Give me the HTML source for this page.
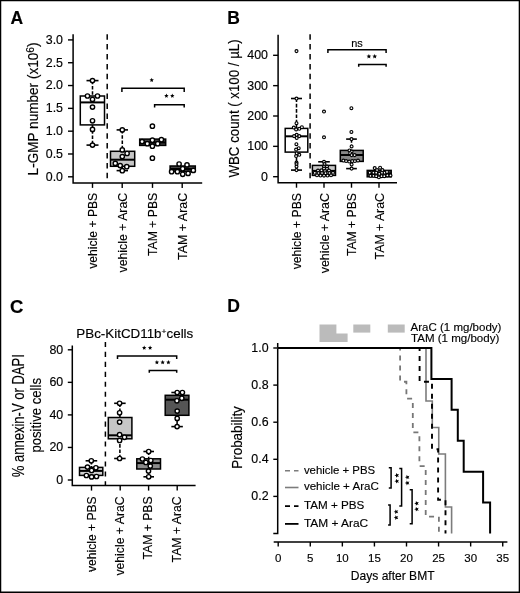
<!DOCTYPE html>
<html><head><meta charset="utf-8"><style>
html,body{margin:0;padding:0;background:#fff;}
svg{display:block;will-change:transform;}
text{font-family:"Liberation Sans", sans-serif;fill:#000;stroke:#000;stroke-width:0.15px;}
</style></head><body>
<svg width="520" height="593" viewBox="0 0 520 593">
<rect x="0" y="0" width="520" height="593" fill="#fff"/>
<text x="10.60" y="23.70" font-size="17.5" text-anchor="start" font-weight="bold">A</text>
<line x1="107.20" y1="34.20" x2="107.20" y2="182.50" stroke="#000" stroke-width="1.5" stroke-dasharray="5.5,4.4" stroke-linecap="butt"/>
<path d="M73.1,34.2 V182.9 H202.2" stroke="#000" stroke-width="1.5" fill="none" stroke-linejoin="miter"/>
<line x1="68.00" y1="176.80" x2="73.10" y2="176.80" stroke="#000" stroke-width="1.4" stroke-linecap="butt"/>
<text x="63.00" y="180.70" font-size="12.4" text-anchor="end" font-weight="normal">0.0</text>
<line x1="68.00" y1="153.99" x2="73.10" y2="153.99" stroke="#000" stroke-width="1.4" stroke-linecap="butt"/>
<text x="63.00" y="157.89" font-size="12.4" text-anchor="end" font-weight="normal">0.5</text>
<line x1="68.00" y1="131.17" x2="73.10" y2="131.17" stroke="#000" stroke-width="1.4" stroke-linecap="butt"/>
<text x="63.00" y="135.07" font-size="12.4" text-anchor="end" font-weight="normal">1.0</text>
<line x1="68.00" y1="108.36" x2="73.10" y2="108.36" stroke="#000" stroke-width="1.4" stroke-linecap="butt"/>
<text x="63.00" y="112.26" font-size="12.4" text-anchor="end" font-weight="normal">1.5</text>
<line x1="68.00" y1="85.54" x2="73.10" y2="85.54" stroke="#000" stroke-width="1.4" stroke-linecap="butt"/>
<text x="63.00" y="89.44" font-size="12.4" text-anchor="end" font-weight="normal">2.0</text>
<line x1="68.00" y1="62.73" x2="73.10" y2="62.73" stroke="#000" stroke-width="1.4" stroke-linecap="butt"/>
<text x="63.00" y="66.63" font-size="12.4" text-anchor="end" font-weight="normal">2.5</text>
<line x1="68.00" y1="39.91" x2="73.10" y2="39.91" stroke="#000" stroke-width="1.4" stroke-linecap="butt"/>
<text x="63.00" y="43.81" font-size="12.4" text-anchor="end" font-weight="normal">3.0</text>
<line x1="92.50" y1="182.90" x2="92.50" y2="187.90" stroke="#000" stroke-width="1.4" stroke-linecap="butt"/>
<text transform="translate(96.60 268.75) rotate(-90)" font-size="12.7" textLength="75.97" lengthAdjust="spacingAndGlyphs">vehicle + PBS</text>
<line x1="122.20" y1="182.90" x2="122.20" y2="187.90" stroke="#000" stroke-width="1.4" stroke-linecap="butt"/>
<text transform="translate(127.00 272.50) rotate(-90)" font-size="12.7" textLength="79.69" lengthAdjust="spacingAndGlyphs">vehicle + AraC</text>
<line x1="152.50" y1="182.90" x2="152.50" y2="187.90" stroke="#000" stroke-width="1.4" stroke-linecap="butt"/>
<text transform="translate(156.80 256.00) rotate(-90)" font-size="12.7" textLength="63.20" lengthAdjust="spacingAndGlyphs">TAM + PBS</text>
<line x1="182.20" y1="182.90" x2="182.20" y2="187.90" stroke="#000" stroke-width="1.4" stroke-linecap="butt"/>
<text transform="translate(186.60 260.00) rotate(-90)" font-size="12.7" textLength="67.22" lengthAdjust="spacingAndGlyphs">TAM + AraC</text>
<text transform="translate(38.0 108.9) rotate(-90)" font-size="14.2" text-anchor="middle" textLength="133" lengthAdjust="spacingAndGlyphs">L-GMP number (x10<tspan font-size="10.8" dy="-3.8">6</tspan><tspan dy="3.8">)</tspan></text>
<line x1="92.50" y1="80.60" x2="92.50" y2="96.00" stroke="#000" stroke-width="1.55" stroke-dasharray="3.6,1.7" stroke-linecap="butt"/>
<line x1="86.50" y1="80.60" x2="98.50" y2="80.60" stroke="#000" stroke-width="1.6" stroke-linecap="butt"/>
<line x1="92.50" y1="124.90" x2="92.50" y2="145.10" stroke="#000" stroke-width="1.55" stroke-dasharray="3.6,1.7" stroke-linecap="butt"/>
<line x1="86.50" y1="145.10" x2="98.50" y2="145.10" stroke="#000" stroke-width="1.6" stroke-linecap="butt"/>
<rect x="80.30" y="96.00" width="24.20" height="28.90" fill="#fff" stroke="#000" stroke-width="1.5"/>
<line x1="80.30" y1="102.40" x2="104.50" y2="102.40" stroke="#000" stroke-width="2.0" stroke-linecap="butt"/>
<circle cx="92.50" cy="80.60" r="2.15" fill="#fff" stroke="#000" stroke-width="1.4"/>
<circle cx="87.50" cy="96.00" r="2.15" fill="#fff" stroke="#000" stroke-width="1.4"/>
<circle cx="97.50" cy="96.00" r="2.15" fill="#fff" stroke="#000" stroke-width="1.4"/>
<circle cx="92.50" cy="99.40" r="2.15" fill="#fff" stroke="#000" stroke-width="1.4"/>
<circle cx="92.50" cy="107.10" r="2.15" fill="#fff" stroke="#000" stroke-width="1.4"/>
<circle cx="92.50" cy="120.80" r="2.15" fill="#fff" stroke="#000" stroke-width="1.4"/>
<circle cx="92.50" cy="129.40" r="2.15" fill="#fff" stroke="#000" stroke-width="1.4"/>
<circle cx="92.50" cy="145.10" r="2.15" fill="#fff" stroke="#000" stroke-width="1.4"/>
<line x1="122.30" y1="129.90" x2="122.30" y2="151.30" stroke="#000" stroke-width="1.55" stroke-dasharray="3.6,1.7" stroke-linecap="butt"/>
<line x1="116.60" y1="129.90" x2="128.00" y2="129.90" stroke="#000" stroke-width="1.6" stroke-linecap="butt"/>
<line x1="122.30" y1="166.30" x2="122.30" y2="170.60" stroke="#000" stroke-width="1.55" stroke-dasharray="3.6,1.7" stroke-linecap="butt"/>
<line x1="116.60" y1="170.60" x2="128.00" y2="170.60" stroke="#000" stroke-width="1.6" stroke-linecap="butt"/>
<rect x="110.50" y="151.30" width="24.20" height="15.00" fill="#c6c6c6" stroke="#000" stroke-width="1.5"/>
<line x1="110.50" y1="159.70" x2="134.70" y2="159.70" stroke="#000" stroke-width="2.0" stroke-linecap="butt"/>
<circle cx="122.30" cy="129.90" r="2.15" fill="#fff" stroke="#000" stroke-width="1.4"/>
<circle cx="122.30" cy="149.90" r="2.15" fill="#fff" stroke="#000" stroke-width="1.4"/>
<circle cx="127.10" cy="153.50" r="2.15" fill="#fff" stroke="#000" stroke-width="1.4"/>
<circle cx="122.30" cy="156.60" r="2.15" fill="#fff" stroke="#000" stroke-width="1.4"/>
<circle cx="115.30" cy="163.40" r="2.15" fill="#fff" stroke="#000" stroke-width="1.4"/>
<circle cx="120.20" cy="165.60" r="2.15" fill="#fff" stroke="#000" stroke-width="1.4"/>
<circle cx="126.75" cy="166.70" r="2.15" fill="#fff" stroke="#000" stroke-width="1.4"/>
<circle cx="122.30" cy="170.70" r="2.15" fill="#fff" stroke="#000" stroke-width="1.4"/>
<rect x="139.70" y="139.10" width="26.00" height="6.30" fill="#444" stroke="#000" stroke-width="1.5"/>
<line x1="139.70" y1="142.50" x2="165.70" y2="142.50" stroke="#000" stroke-width="2.0" stroke-linecap="butt"/>
<circle cx="152.40" cy="126.20" r="2.15" fill="#fff" stroke="#000" stroke-width="1.4"/>
<circle cx="142.10" cy="141.60" r="2.15" fill="#fff" stroke="#000" stroke-width="1.4"/>
<circle cx="147.30" cy="143.70" r="2.15" fill="#fff" stroke="#000" stroke-width="1.4"/>
<circle cx="152.40" cy="140.20" r="2.15" fill="#fff" stroke="#000" stroke-width="1.4"/>
<circle cx="152.40" cy="146.20" r="2.15" fill="#fff" stroke="#000" stroke-width="1.4"/>
<circle cx="157.70" cy="143.70" r="2.15" fill="#fff" stroke="#000" stroke-width="1.4"/>
<circle cx="161.40" cy="139.70" r="2.15" fill="#fff" stroke="#000" stroke-width="1.4"/>
<circle cx="152.40" cy="158.20" r="2.15" fill="#fff" stroke="#000" stroke-width="1.4"/>
<rect x="170.10" y="166.00" width="25.20" height="5.50" fill="#444" stroke="#000" stroke-width="1.5"/>
<line x1="170.10" y1="169.00" x2="195.30" y2="169.00" stroke="#000" stroke-width="2.0" stroke-linecap="butt"/>
<circle cx="179.10" cy="164.00" r="2.15" fill="#fff" stroke="#000" stroke-width="1.4"/>
<circle cx="187.00" cy="164.90" r="2.15" fill="#fff" stroke="#000" stroke-width="1.4"/>
<circle cx="182.70" cy="168.80" r="2.15" fill="#fff" stroke="#000" stroke-width="1.4"/>
<circle cx="171.60" cy="171.70" r="2.15" fill="#fff" stroke="#000" stroke-width="1.4"/>
<circle cx="177.40" cy="171.70" r="2.15" fill="#fff" stroke="#000" stroke-width="1.4"/>
<circle cx="182.70" cy="174.30" r="2.15" fill="#fff" stroke="#000" stroke-width="1.4"/>
<circle cx="188.10" cy="173.40" r="2.15" fill="#fff" stroke="#000" stroke-width="1.4"/>
<circle cx="193.30" cy="170.40" r="2.15" fill="#fff" stroke="#000" stroke-width="1.4"/>
<path d="M121.9,91.9 V88.2 H184.2 V92" stroke="#000" stroke-width="1.5" fill="none" stroke-linejoin="miter"/>
<path d="M154.6,107.6 V104.7 H184.2 V107.6" stroke="#000" stroke-width="1.5" fill="none" stroke-linejoin="miter"/>
<polygon points="151.70,77.80 152.31,79.26 153.89,79.39 152.68,80.42 153.05,81.96 151.70,81.13 150.35,81.96 150.72,80.42 149.51,79.39 151.09,79.26" fill="#000"/>
<polygon points="166.40,93.60 167.01,95.06 168.59,95.19 167.38,96.22 167.75,97.76 166.40,96.94 165.05,97.76 165.42,96.22 164.21,95.19 165.79,95.06" fill="#000"/>
<polygon points="172.30,93.60 172.91,95.06 174.49,95.19 173.28,96.22 173.65,97.76 172.30,96.94 170.95,97.76 171.32,96.22 170.11,95.19 171.69,95.06" fill="#000"/>
<text x="227.30" y="23.70" font-size="17.5" text-anchor="start" font-weight="bold">B</text>
<line x1="310.10" y1="34.20" x2="310.10" y2="179.00" stroke="#000" stroke-width="1.5" stroke-dasharray="5.5,4.4" stroke-linecap="butt"/>
<path d="M278.1,34.8 V182.7 H397" stroke="#000" stroke-width="1.5" fill="none" stroke-linejoin="miter"/>
<line x1="273.10" y1="176.70" x2="278.10" y2="176.70" stroke="#000" stroke-width="1.4" stroke-linecap="butt"/>
<text x="268.00" y="180.60" font-size="12.4" text-anchor="end" font-weight="normal">0</text>
<line x1="273.10" y1="146.35" x2="278.10" y2="146.35" stroke="#000" stroke-width="1.4" stroke-linecap="butt"/>
<text x="268.00" y="150.25" font-size="12.4" text-anchor="end" font-weight="normal">100</text>
<line x1="273.10" y1="116.00" x2="278.10" y2="116.00" stroke="#000" stroke-width="1.4" stroke-linecap="butt"/>
<text x="268.00" y="119.90" font-size="12.4" text-anchor="end" font-weight="normal">200</text>
<line x1="273.10" y1="85.65" x2="278.10" y2="85.65" stroke="#000" stroke-width="1.4" stroke-linecap="butt"/>
<text x="268.00" y="89.55" font-size="12.4" text-anchor="end" font-weight="normal">300</text>
<line x1="273.10" y1="55.30" x2="278.10" y2="55.30" stroke="#000" stroke-width="1.4" stroke-linecap="butt"/>
<text x="268.00" y="59.20" font-size="12.4" text-anchor="end" font-weight="normal">400</text>
<line x1="296.50" y1="182.70" x2="296.50" y2="187.70" stroke="#000" stroke-width="1.4" stroke-linecap="butt"/>
<text transform="translate(301.20 269.30) rotate(-90)" font-size="12.7" textLength="76.22" lengthAdjust="spacingAndGlyphs">vehicle + PBS</text>
<line x1="324.00" y1="182.70" x2="324.00" y2="187.70" stroke="#000" stroke-width="1.4" stroke-linecap="butt"/>
<text transform="translate(329.00 273.20) rotate(-90)" font-size="12.7" textLength="80.09" lengthAdjust="spacingAndGlyphs">vehicle + AraC</text>
<line x1="351.50" y1="182.70" x2="351.50" y2="187.70" stroke="#000" stroke-width="1.4" stroke-linecap="butt"/>
<text transform="translate(356.00 256.10) rotate(-90)" font-size="12.7" textLength="63.00" lengthAdjust="spacingAndGlyphs">TAM + PBS</text>
<line x1="379.00" y1="182.70" x2="379.00" y2="187.70" stroke="#000" stroke-width="1.4" stroke-linecap="butt"/>
<text transform="translate(383.50 259.40) rotate(-90)" font-size="12.7" textLength="66.32" lengthAdjust="spacingAndGlyphs">TAM + AraC</text>
<text transform="translate(239.00 177.50) rotate(-90)" font-size="14.3" textLength="138.11" lengthAdjust="spacingAndGlyphs">WBC count ( x100 / µL)</text>
<line x1="296.50" y1="98.50" x2="296.50" y2="128.40" stroke="#000" stroke-width="1.55" stroke-dasharray="3.6,1.7" stroke-linecap="butt"/>
<line x1="291.00" y1="98.50" x2="302.00" y2="98.50" stroke="#000" stroke-width="1.6" stroke-linecap="butt"/>
<line x1="296.50" y1="152.10" x2="296.50" y2="170.10" stroke="#000" stroke-width="1.55" stroke-dasharray="3.6,1.7" stroke-linecap="butt"/>
<line x1="291.00" y1="170.10" x2="302.00" y2="170.10" stroke="#000" stroke-width="1.6" stroke-linecap="butt"/>
<rect x="285.20" y="128.40" width="22.60" height="23.70" fill="#fff" stroke="#000" stroke-width="1.5"/>
<line x1="285.20" y1="136.30" x2="307.80" y2="136.30" stroke="#000" stroke-width="2.0" stroke-linecap="butt"/>
<circle cx="296.50" cy="51.10" r="1.45" fill="#fff" stroke="#000" stroke-width="1.15"/>
<circle cx="296.50" cy="98.50" r="1.45" fill="#fff" stroke="#000" stroke-width="1.15"/>
<circle cx="296.50" cy="123.20" r="1.45" fill="#fff" stroke="#000" stroke-width="1.15"/>
<circle cx="293.80" cy="127.50" r="1.45" fill="#fff" stroke="#000" stroke-width="1.15"/>
<circle cx="296.10" cy="129.40" r="1.45" fill="#fff" stroke="#000" stroke-width="1.15"/>
<circle cx="299.30" cy="128.80" r="1.45" fill="#fff" stroke="#000" stroke-width="1.15"/>
<circle cx="301.90" cy="127.20" r="1.45" fill="#fff" stroke="#000" stroke-width="1.15"/>
<circle cx="294.10" cy="136.10" r="1.45" fill="#fff" stroke="#000" stroke-width="1.15"/>
<circle cx="296.70" cy="134.80" r="1.45" fill="#fff" stroke="#000" stroke-width="1.15"/>
<circle cx="296.70" cy="137.90" r="1.45" fill="#fff" stroke="#000" stroke-width="1.15"/>
<circle cx="299.30" cy="136.10" r="1.45" fill="#fff" stroke="#000" stroke-width="1.15"/>
<circle cx="296.40" cy="144.20" r="1.45" fill="#fff" stroke="#000" stroke-width="1.15"/>
<circle cx="298.70" cy="148.20" r="1.45" fill="#fff" stroke="#000" stroke-width="1.15"/>
<circle cx="296.10" cy="149.50" r="1.45" fill="#fff" stroke="#000" stroke-width="1.15"/>
<circle cx="296.70" cy="153.40" r="1.45" fill="#fff" stroke="#000" stroke-width="1.15"/>
<circle cx="299.30" cy="154.80" r="1.45" fill="#fff" stroke="#000" stroke-width="1.15"/>
<circle cx="296.10" cy="156.00" r="1.45" fill="#fff" stroke="#000" stroke-width="1.15"/>
<circle cx="296.50" cy="162.60" r="1.45" fill="#fff" stroke="#000" stroke-width="1.15"/>
<circle cx="296.50" cy="164.10" r="1.45" fill="#fff" stroke="#000" stroke-width="1.15"/>
<circle cx="296.50" cy="166.60" r="1.45" fill="#fff" stroke="#000" stroke-width="1.15"/>
<circle cx="296.50" cy="170.10" r="1.45" fill="#fff" stroke="#000" stroke-width="1.15"/>
<line x1="324.00" y1="161.80" x2="324.00" y2="165.40" stroke="#000" stroke-width="1.55" stroke-dasharray="3.6,1.7" stroke-linecap="butt"/>
<line x1="318.20" y1="161.80" x2="329.80" y2="161.80" stroke="#000" stroke-width="1.6" stroke-linecap="butt"/>
<rect x="312.40" y="165.40" width="23.10" height="10.00" fill="#c8c8c8" stroke="#000" stroke-width="1.5"/>
<line x1="312.40" y1="170.90" x2="335.50" y2="170.90" stroke="#000" stroke-width="2.0" stroke-linecap="butt"/>
<circle cx="324.00" cy="111.50" r="1.45" fill="#fff" stroke="#000" stroke-width="1.15"/>
<circle cx="324.00" cy="137.30" r="1.45" fill="#fff" stroke="#000" stroke-width="1.15"/>
<circle cx="324.00" cy="161.80" r="1.45" fill="#fff" stroke="#000" stroke-width="1.15"/>
<circle cx="324.50" cy="164.00" r="1.45" fill="#fff" stroke="#000" stroke-width="1.15"/>
<circle cx="324.00" cy="166.50" r="1.45" fill="#fff" stroke="#000" stroke-width="1.15"/>
<circle cx="327.00" cy="166.50" r="1.45" fill="#fff" stroke="#000" stroke-width="1.15"/>
<circle cx="324.00" cy="168.60" r="1.45" fill="#fff" stroke="#000" stroke-width="1.15"/>
<circle cx="327.00" cy="168.80" r="1.45" fill="#fff" stroke="#000" stroke-width="1.15"/>
<circle cx="318.00" cy="170.50" r="1.45" fill="#fff" stroke="#000" stroke-width="1.15"/>
<circle cx="321.50" cy="170.30" r="1.45" fill="#fff" stroke="#000" stroke-width="1.15"/>
<circle cx="325.00" cy="171.00" r="1.45" fill="#fff" stroke="#000" stroke-width="1.15"/>
<circle cx="329.00" cy="170.50" r="1.45" fill="#fff" stroke="#000" stroke-width="1.15"/>
<circle cx="314.80" cy="172.80" r="1.45" fill="#fff" stroke="#000" stroke-width="1.15"/>
<circle cx="318.50" cy="173.00" r="1.45" fill="#fff" stroke="#000" stroke-width="1.15"/>
<circle cx="322.00" cy="173.00" r="1.45" fill="#fff" stroke="#000" stroke-width="1.15"/>
<circle cx="325.50" cy="173.20" r="1.45" fill="#fff" stroke="#000" stroke-width="1.15"/>
<circle cx="329.50" cy="173.00" r="1.45" fill="#fff" stroke="#000" stroke-width="1.15"/>
<circle cx="333.00" cy="172.80" r="1.45" fill="#fff" stroke="#000" stroke-width="1.15"/>
<circle cx="317.00" cy="175.30" r="1.45" fill="#fff" stroke="#000" stroke-width="1.15"/>
<circle cx="320.50" cy="175.50" r="1.45" fill="#fff" stroke="#000" stroke-width="1.15"/>
<circle cx="324.00" cy="175.60" r="1.45" fill="#fff" stroke="#000" stroke-width="1.15"/>
<circle cx="327.50" cy="175.50" r="1.45" fill="#fff" stroke="#000" stroke-width="1.15"/>
<circle cx="331.00" cy="175.30" r="1.45" fill="#fff" stroke="#000" stroke-width="1.15"/>
<line x1="351.50" y1="139.10" x2="351.50" y2="150.40" stroke="#000" stroke-width="1.55" stroke-dasharray="3.6,1.7" stroke-linecap="butt"/>
<line x1="346.15" y1="139.10" x2="356.85" y2="139.10" stroke="#000" stroke-width="1.6" stroke-linecap="butt"/>
<line x1="351.50" y1="161.40" x2="351.50" y2="168.60" stroke="#000" stroke-width="1.55" stroke-dasharray="3.6,1.7" stroke-linecap="butt"/>
<line x1="346.15" y1="168.60" x2="356.85" y2="168.60" stroke="#000" stroke-width="1.6" stroke-linecap="butt"/>
<rect x="340.30" y="150.40" width="22.90" height="11.00" fill="#888" stroke="#000" stroke-width="1.5"/>
<line x1="340.30" y1="155.00" x2="363.20" y2="155.00" stroke="#000" stroke-width="2.0" stroke-linecap="butt"/>
<circle cx="351.40" cy="108.20" r="1.45" fill="#fff" stroke="#000" stroke-width="1.15"/>
<circle cx="351.40" cy="131.90" r="1.45" fill="#fff" stroke="#000" stroke-width="1.15"/>
<circle cx="351.50" cy="139.10" r="1.45" fill="#fff" stroke="#000" stroke-width="1.15"/>
<circle cx="351.60" cy="146.40" r="1.45" fill="#fff" stroke="#000" stroke-width="1.15"/>
<circle cx="349.50" cy="150.40" r="1.45" fill="#fff" stroke="#000" stroke-width="1.15"/>
<circle cx="351.60" cy="151.60" r="1.45" fill="#fff" stroke="#000" stroke-width="1.15"/>
<circle cx="350.20" cy="153.20" r="1.45" fill="#fff" stroke="#000" stroke-width="1.15"/>
<circle cx="351.60" cy="155.10" r="1.45" fill="#fff" stroke="#000" stroke-width="1.15"/>
<circle cx="354.60" cy="155.10" r="1.45" fill="#fff" stroke="#000" stroke-width="1.15"/>
<circle cx="343.40" cy="160.50" r="1.45" fill="#fff" stroke="#000" stroke-width="1.15"/>
<circle cx="346.10" cy="161.00" r="1.45" fill="#fff" stroke="#000" stroke-width="1.15"/>
<circle cx="349.20" cy="161.50" r="1.45" fill="#fff" stroke="#000" stroke-width="1.15"/>
<circle cx="352.20" cy="161.00" r="1.45" fill="#fff" stroke="#000" stroke-width="1.15"/>
<circle cx="354.90" cy="161.00" r="1.45" fill="#fff" stroke="#000" stroke-width="1.15"/>
<circle cx="358.00" cy="160.50" r="1.45" fill="#fff" stroke="#000" stroke-width="1.15"/>
<circle cx="351.60" cy="164.40" r="1.45" fill="#fff" stroke="#000" stroke-width="1.15"/>
<circle cx="351.60" cy="168.60" r="1.45" fill="#fff" stroke="#000" stroke-width="1.15"/>
<rect x="367.20" y="170.40" width="24.00" height="6.40" fill="#444" stroke="#000" stroke-width="1.5"/>
<line x1="367.20" y1="173.50" x2="391.20" y2="173.50" stroke="#000" stroke-width="2.0" stroke-linecap="butt"/>
<circle cx="374.70" cy="168.10" r="1.45" fill="#fff" stroke="#000" stroke-width="1.15"/>
<circle cx="380.10" cy="167.70" r="1.45" fill="#fff" stroke="#000" stroke-width="1.15"/>
<circle cx="377.00" cy="170.00" r="1.45" fill="#fff" stroke="#000" stroke-width="1.15"/>
<circle cx="382.40" cy="170.00" r="1.45" fill="#fff" stroke="#000" stroke-width="1.15"/>
<circle cx="369.70" cy="172.70" r="1.45" fill="#fff" stroke="#000" stroke-width="1.15"/>
<circle cx="373.50" cy="172.70" r="1.45" fill="#fff" stroke="#000" stroke-width="1.15"/>
<circle cx="376.20" cy="172.70" r="1.45" fill="#fff" stroke="#000" stroke-width="1.15"/>
<circle cx="379.30" cy="173.80" r="1.45" fill="#fff" stroke="#000" stroke-width="1.15"/>
<circle cx="382.00" cy="172.70" r="1.45" fill="#fff" stroke="#000" stroke-width="1.15"/>
<circle cx="384.70" cy="172.70" r="1.45" fill="#fff" stroke="#000" stroke-width="1.15"/>
<circle cx="387.00" cy="171.90" r="1.45" fill="#fff" stroke="#000" stroke-width="1.15"/>
<circle cx="370.50" cy="175.80" r="1.45" fill="#fff" stroke="#000" stroke-width="1.15"/>
<circle cx="373.50" cy="175.80" r="1.45" fill="#fff" stroke="#000" stroke-width="1.15"/>
<circle cx="376.20" cy="176.20" r="1.45" fill="#fff" stroke="#000" stroke-width="1.15"/>
<circle cx="378.90" cy="177.30" r="1.45" fill="#fff" stroke="#000" stroke-width="1.15"/>
<circle cx="381.60" cy="176.20" r="1.45" fill="#fff" stroke="#000" stroke-width="1.15"/>
<circle cx="384.30" cy="176.20" r="1.45" fill="#fff" stroke="#000" stroke-width="1.15"/>
<circle cx="387.40" cy="175.40" r="1.45" fill="#fff" stroke="#000" stroke-width="1.15"/>
<circle cx="390.50" cy="175.40" r="1.45" fill="#fff" stroke="#000" stroke-width="1.15"/>
<path d="M327.9,53.0 V49.8 H386.1 V53.0" stroke="#000" stroke-width="1.5" fill="none" stroke-linejoin="miter"/>
<path d="M358.7,66.8 V64.6 H386.1 V66.8" stroke="#000" stroke-width="1.5" fill="none" stroke-linejoin="miter"/>
<text x="351.20" y="47.10" font-size="11.3" textLength="11.58" lengthAdjust="spacingAndGlyphs">ns</text>
<polygon points="368.90,53.90 369.56,55.49 371.28,55.63 369.97,56.75 370.37,58.42 368.90,57.52 367.43,58.42 367.83,56.75 366.52,55.63 368.24,55.49" fill="#000"/>
<polygon points="374.70,53.90 375.36,55.49 377.08,55.63 375.77,56.75 376.17,58.42 374.70,57.52 373.23,58.42 373.63,56.75 372.32,55.63 374.04,55.49" fill="#000"/>
<text x="10.00" y="313.20" font-size="18.5" text-anchor="start" font-weight="bold">C</text>
<line x1="105.40" y1="341.90" x2="105.40" y2="486.00" stroke="#000" stroke-width="1.5" stroke-dasharray="5.1,4.86" stroke-linecap="butt"/>
<path d="M72.3,345.5 V485.6 H195.6" stroke="#000" stroke-width="1.5" fill="none" stroke-linejoin="miter"/>
<line x1="67.80" y1="480.00" x2="72.30" y2="480.00" stroke="#000" stroke-width="1.4" stroke-linecap="butt"/>
<text x="63.20" y="483.90" font-size="12.4" text-anchor="end" font-weight="normal">0</text>
<line x1="67.80" y1="447.45" x2="72.30" y2="447.45" stroke="#000" stroke-width="1.4" stroke-linecap="butt"/>
<text x="63.20" y="451.35" font-size="12.4" text-anchor="end" font-weight="normal">20</text>
<line x1="67.80" y1="414.90" x2="72.30" y2="414.90" stroke="#000" stroke-width="1.4" stroke-linecap="butt"/>
<text x="63.20" y="418.80" font-size="12.4" text-anchor="end" font-weight="normal">40</text>
<line x1="67.80" y1="382.35" x2="72.30" y2="382.35" stroke="#000" stroke-width="1.4" stroke-linecap="butt"/>
<text x="63.20" y="386.25" font-size="12.4" text-anchor="end" font-weight="normal">60</text>
<line x1="67.80" y1="349.80" x2="72.30" y2="349.80" stroke="#000" stroke-width="1.4" stroke-linecap="butt"/>
<text x="63.20" y="353.70" font-size="12.4" text-anchor="end" font-weight="normal">80</text>
<line x1="91.50" y1="485.60" x2="91.50" y2="490.60" stroke="#000" stroke-width="1.4" stroke-linecap="butt"/>
<text transform="translate(96.00 572.00) rotate(-90)" font-size="12.7" textLength="75.62" lengthAdjust="spacingAndGlyphs">vehicle + PBS</text>
<line x1="120.20" y1="485.60" x2="120.20" y2="490.60" stroke="#000" stroke-width="1.4" stroke-linecap="butt"/>
<text transform="translate(124.30 575.60) rotate(-90)" font-size="12.7" textLength="79.19" lengthAdjust="spacingAndGlyphs">vehicle + AraC</text>
<line x1="148.60" y1="485.60" x2="148.60" y2="490.60" stroke="#000" stroke-width="1.4" stroke-linecap="butt"/>
<text transform="translate(152.30 559.50) rotate(-90)" font-size="12.7" textLength="63.10" lengthAdjust="spacingAndGlyphs">TAM + PBS</text>
<line x1="177.20" y1="485.60" x2="177.20" y2="490.60" stroke="#000" stroke-width="1.4" stroke-linecap="butt"/>
<text transform="translate(181.20 562.40) rotate(-90)" font-size="12.7" textLength="66.02" lengthAdjust="spacingAndGlyphs">TAM + AraC</text>
<text transform="translate(23.50 477.30) rotate(-90)" font-size="15.6" textLength="123.10" lengthAdjust="spacingAndGlyphs">% annexin-V or DAPI</text>
<text transform="translate(41.40 452.60) rotate(-90)" font-size="14.6" textLength="74.62" lengthAdjust="spacingAndGlyphs">positive cells</text>
<text x="76.3" y="338.3" font-size="12.6" textLength="117" lengthAdjust="spacingAndGlyphs">PBc-KitCD11b<tspan font-size="8" dy="-4">+</tspan><tspan dy="4">cells</tspan></text>
<line x1="91.40" y1="460.80" x2="91.40" y2="467.40" stroke="#000" stroke-width="1.55" stroke-dasharray="3.6,1.7" stroke-linecap="butt"/>
<line x1="85.60" y1="460.80" x2="97.20" y2="460.80" stroke="#000" stroke-width="1.6" stroke-linecap="butt"/>
<rect x="79.50" y="467.40" width="23.30" height="8.00" fill="#d0d0d0" stroke="#000" stroke-width="1.5"/>
<line x1="79.50" y1="470.90" x2="102.80" y2="470.90" stroke="#000" stroke-width="2.0" stroke-linecap="butt"/>
<circle cx="91.30" cy="460.80" r="2.15" fill="#fff" stroke="#000" stroke-width="1.4"/>
<circle cx="87.50" cy="467.10" r="2.15" fill="#fff" stroke="#000" stroke-width="1.4"/>
<circle cx="95.90" cy="467.80" r="2.15" fill="#fff" stroke="#000" stroke-width="1.4"/>
<circle cx="91.60" cy="470.50" r="2.15" fill="#fff" stroke="#000" stroke-width="1.4"/>
<circle cx="86.40" cy="475.50" r="2.15" fill="#fff" stroke="#000" stroke-width="1.4"/>
<circle cx="91.60" cy="476.90" r="2.15" fill="#fff" stroke="#000" stroke-width="1.4"/>
<circle cx="96.50" cy="476.50" r="2.15" fill="#fff" stroke="#000" stroke-width="1.4"/>
<line x1="119.90" y1="403.30" x2="119.90" y2="417.50" stroke="#000" stroke-width="1.55" stroke-dasharray="3.6,1.7" stroke-linecap="butt"/>
<line x1="114.15" y1="403.30" x2="125.65" y2="403.30" stroke="#000" stroke-width="1.6" stroke-linecap="butt"/>
<line x1="119.90" y1="438.80" x2="119.90" y2="458.50" stroke="#000" stroke-width="1.55" stroke-dasharray="3.6,1.7" stroke-linecap="butt"/>
<line x1="114.15" y1="458.50" x2="125.65" y2="458.50" stroke="#000" stroke-width="1.6" stroke-linecap="butt"/>
<rect x="108.30" y="417.50" width="23.60" height="21.30" fill="#c6c6c6" stroke="#000" stroke-width="1.5"/>
<line x1="108.30" y1="435.30" x2="131.90" y2="435.30" stroke="#000" stroke-width="2.0" stroke-linecap="butt"/>
<circle cx="119.60" cy="403.30" r="2.15" fill="#fff" stroke="#000" stroke-width="1.4"/>
<circle cx="119.60" cy="412.80" r="2.15" fill="#fff" stroke="#000" stroke-width="1.4"/>
<circle cx="119.60" cy="422.10" r="2.15" fill="#fff" stroke="#000" stroke-width="1.4"/>
<circle cx="119.60" cy="434.70" r="2.15" fill="#fff" stroke="#000" stroke-width="1.4"/>
<circle cx="124.50" cy="437.30" r="2.15" fill="#fff" stroke="#000" stroke-width="1.4"/>
<circle cx="119.60" cy="440.50" r="2.15" fill="#fff" stroke="#000" stroke-width="1.4"/>
<circle cx="119.60" cy="458.50" r="2.15" fill="#fff" stroke="#000" stroke-width="1.4"/>
<line x1="148.70" y1="451.50" x2="148.70" y2="458.80" stroke="#000" stroke-width="1.55" stroke-dasharray="3.6,1.7" stroke-linecap="butt"/>
<line x1="143.40" y1="451.50" x2="154.00" y2="451.50" stroke="#000" stroke-width="1.6" stroke-linecap="butt"/>
<line x1="148.70" y1="469.00" x2="148.70" y2="476.80" stroke="#000" stroke-width="1.55" stroke-dasharray="3.6,1.7" stroke-linecap="butt"/>
<line x1="143.40" y1="476.80" x2="154.00" y2="476.80" stroke="#000" stroke-width="1.6" stroke-linecap="butt"/>
<rect x="136.80" y="458.80" width="23.70" height="10.20" fill="#8c8c8c" stroke="#000" stroke-width="1.5"/>
<line x1="136.80" y1="463.10" x2="160.50" y2="463.10" stroke="#000" stroke-width="2.0" stroke-linecap="butt"/>
<circle cx="148.70" cy="451.50" r="2.15" fill="#fff" stroke="#000" stroke-width="1.4"/>
<circle cx="142.40" cy="459.00" r="2.15" fill="#fff" stroke="#000" stroke-width="1.4"/>
<circle cx="150.80" cy="460.50" r="2.15" fill="#fff" stroke="#000" stroke-width="1.4"/>
<circle cx="145.90" cy="462.50" r="2.15" fill="#fff" stroke="#000" stroke-width="1.4"/>
<circle cx="150.30" cy="466.10" r="2.15" fill="#fff" stroke="#000" stroke-width="1.4"/>
<circle cx="148.50" cy="471.10" r="2.15" fill="#fff" stroke="#000" stroke-width="1.4"/>
<circle cx="148.70" cy="476.80" r="2.15" fill="#fff" stroke="#000" stroke-width="1.4"/>
<line x1="177.10" y1="392.50" x2="177.10" y2="395.30" stroke="#000" stroke-width="1.55" stroke-dasharray="3.6,1.7" stroke-linecap="butt"/>
<line x1="171.35" y1="392.50" x2="182.85" y2="392.50" stroke="#000" stroke-width="1.6" stroke-linecap="butt"/>
<line x1="177.10" y1="415.30" x2="177.10" y2="426.60" stroke="#000" stroke-width="1.55" stroke-dasharray="3.6,1.7" stroke-linecap="butt"/>
<line x1="171.35" y1="426.60" x2="182.85" y2="426.60" stroke="#000" stroke-width="1.6" stroke-linecap="butt"/>
<rect x="165.20" y="395.30" width="23.70" height="20.00" fill="#555" stroke="#000" stroke-width="1.5"/>
<line x1="165.20" y1="399.70" x2="188.90" y2="399.70" stroke="#000" stroke-width="2.0" stroke-linecap="butt"/>
<circle cx="177.20" cy="392.50" r="2.15" fill="#fff" stroke="#000" stroke-width="1.4"/>
<circle cx="182.40" cy="392.50" r="2.15" fill="#fff" stroke="#000" stroke-width="1.4"/>
<circle cx="181.80" cy="398.30" r="2.15" fill="#fff" stroke="#000" stroke-width="1.4"/>
<circle cx="176.90" cy="400.80" r="2.15" fill="#fff" stroke="#000" stroke-width="1.4"/>
<circle cx="177.20" cy="411.10" r="2.15" fill="#fff" stroke="#000" stroke-width="1.4"/>
<circle cx="177.20" cy="418.40" r="2.15" fill="#fff" stroke="#000" stroke-width="1.4"/>
<circle cx="177.10" cy="426.60" r="2.15" fill="#fff" stroke="#000" stroke-width="1.4"/>
<path d="M117.5,359.0 V355.9 H176.7 V359.0" stroke="#000" stroke-width="1.5" fill="none" stroke-linejoin="miter"/>
<path d="M149.3,372.8 V370.6 H176.7 V372.8" stroke="#000" stroke-width="1.5" fill="none" stroke-linejoin="miter"/>
<polygon points="144.20,345.60 144.81,347.06 146.39,347.19 145.18,348.22 145.55,349.76 144.20,348.94 142.85,349.76 143.22,348.22 142.01,347.19 143.59,347.06" fill="#000"/>
<polygon points="150.10,345.60 150.71,347.06 152.29,347.19 151.08,348.22 151.45,349.76 150.10,348.94 148.75,349.76 149.12,348.22 147.91,347.19 149.49,347.06" fill="#000"/>
<polygon points="156.90,360.10 157.51,361.56 159.09,361.69 157.88,362.72 158.25,364.26 156.90,363.44 155.55,364.26 155.92,362.72 154.71,361.69 156.29,361.56" fill="#000"/>
<polygon points="162.65,360.10 163.26,361.56 164.84,361.69 163.63,362.72 164.00,364.26 162.65,363.44 161.30,364.26 161.67,362.72 160.46,361.69 162.04,361.56" fill="#000"/>
<polygon points="168.40,360.10 169.01,361.56 170.59,361.69 169.38,362.72 169.75,364.26 168.40,363.44 167.05,364.26 167.42,362.72 166.21,361.69 167.79,361.56" fill="#000"/>
<text x="227.30" y="312.20" font-size="17.5" text-anchor="start" font-weight="bold">D</text>
<path d="M319.5,324.5 H336.4 V333.6 H347.6 V342 H319.5 Z" fill="#bbbbbb"/>
<rect x="353.30" y="324.50" width="17.00" height="8.10" fill="#bbbbbb"/>
<rect x="387.80" y="324.50" width="16.90" height="8.10" fill="#bbbbbb"/>
<text x="410.60" y="331.30" font-size="11.8" textLength="90.82" lengthAdjust="spacingAndGlyphs">AraC (1 mg/body)</text>
<text x="411.00" y="342.10" font-size="11.8" textLength="88.32" lengthAdjust="spacingAndGlyphs">TAM (1 mg/body)</text>
<path d="M273.3,533.5 H277.7 V343" stroke="#000" stroke-width="1.5" fill="none" stroke-linejoin="miter"/>
<path d="M273.7,542 H507.4" stroke="#000" stroke-width="1.5" fill="none" stroke-linejoin="miter"/>
<line x1="273.30" y1="496.40" x2="277.70" y2="496.40" stroke="#000" stroke-width="1.4" stroke-linecap="butt"/>
<text x="268.60" y="500.30" font-size="12.4" text-anchor="end" font-weight="normal">0.2</text>
<line x1="273.30" y1="459.30" x2="277.70" y2="459.30" stroke="#000" stroke-width="1.4" stroke-linecap="butt"/>
<text x="268.60" y="463.20" font-size="12.4" text-anchor="end" font-weight="normal">0.4</text>
<line x1="273.30" y1="422.20" x2="277.70" y2="422.20" stroke="#000" stroke-width="1.4" stroke-linecap="butt"/>
<text x="268.60" y="426.10" font-size="12.4" text-anchor="end" font-weight="normal">0.6</text>
<line x1="273.30" y1="385.10" x2="277.70" y2="385.10" stroke="#000" stroke-width="1.4" stroke-linecap="butt"/>
<text x="268.60" y="389.00" font-size="12.4" text-anchor="end" font-weight="normal">0.8</text>
<line x1="273.30" y1="348.00" x2="277.70" y2="348.00" stroke="#000" stroke-width="1.4" stroke-linecap="butt"/>
<text x="268.60" y="351.90" font-size="12.4" text-anchor="end" font-weight="normal">1.0</text>
<line x1="278.20" y1="542.00" x2="278.20" y2="546.50" stroke="#000" stroke-width="1.4" stroke-linecap="butt"/>
<text x="278.20" y="561.60" font-size="11.5" text-anchor="middle" font-weight="normal">0</text>
<line x1="310.27" y1="542.00" x2="310.27" y2="546.50" stroke="#000" stroke-width="1.4" stroke-linecap="butt"/>
<text x="310.27" y="561.60" font-size="11.5" text-anchor="middle" font-weight="normal">5</text>
<line x1="342.35" y1="542.00" x2="342.35" y2="546.50" stroke="#000" stroke-width="1.4" stroke-linecap="butt"/>
<text x="342.35" y="561.60" font-size="11.5" text-anchor="middle" font-weight="normal">10</text>
<line x1="374.42" y1="542.00" x2="374.42" y2="546.50" stroke="#000" stroke-width="1.4" stroke-linecap="butt"/>
<text x="374.42" y="561.60" font-size="11.5" text-anchor="middle" font-weight="normal">15</text>
<line x1="406.50" y1="542.00" x2="406.50" y2="546.50" stroke="#000" stroke-width="1.4" stroke-linecap="butt"/>
<text x="406.50" y="561.60" font-size="11.5" text-anchor="middle" font-weight="normal">20</text>
<line x1="438.57" y1="542.00" x2="438.57" y2="546.50" stroke="#000" stroke-width="1.4" stroke-linecap="butt"/>
<text x="438.57" y="561.60" font-size="11.5" text-anchor="middle" font-weight="normal">25</text>
<line x1="470.65" y1="542.00" x2="470.65" y2="546.50" stroke="#000" stroke-width="1.4" stroke-linecap="butt"/>
<text x="470.65" y="561.60" font-size="11.5" text-anchor="middle" font-weight="normal">30</text>
<line x1="502.73" y1="542.00" x2="502.73" y2="546.50" stroke="#000" stroke-width="1.4" stroke-linecap="butt"/>
<text x="502.73" y="561.60" font-size="11.5" text-anchor="middle" font-weight="normal">35</text>
<text x="350.80" y="579.70" font-size="12.2" textLength="83.79" lengthAdjust="spacingAndGlyphs">Days after BMT</text>
<text transform="translate(241.90 468.70) rotate(-90)" font-size="14.0" textLength="62.51" lengthAdjust="spacingAndGlyphs">Probability</text>
<path d="M277.7,348.00 H400.10 V381.73 H406.40 V398.59 H412.80 V432.32 H419.40 V466.05 H425.70 V516.64 H438.90 V533.50" stroke="#777" stroke-width="1.8" fill="none" stroke-dasharray="5,5" stroke-linejoin="miter"/>
<path d="M277.7,348.00 H426.00 V401.00 H432.30 V427.50 H438.75 V454.00 H445.40 V507.00 H451.60 V533.50" stroke="#7c7c7c" stroke-width="1.6" fill="none" stroke-linejoin="miter"/>
<path d="M277.7,348.00 H419.60 V381.73 H432.00 V449.18 H438.10 V499.77 H445.50 V533.50" stroke="#000" stroke-width="1.9" fill="none" stroke-dasharray="5,5" stroke-linejoin="miter"/>
<path d="M277.7,348.00 H431.40 V378.92 H451.60 V409.83 H457.80 V440.75 H463.70 V471.67 H483.10 V502.58 H490.10 V533.50" stroke="#000" stroke-width="2.0" fill="none" stroke-linejoin="miter"/>
<line x1="285.00" y1="470.70" x2="298.50" y2="470.70" stroke="#7c7c7c" stroke-width="1.6" stroke-dasharray="5,4" stroke-linecap="butt"/>
<line x1="285.00" y1="487.50" x2="298.50" y2="487.50" stroke="#7c7c7c" stroke-width="1.6" stroke-linecap="butt"/>
<line x1="285.00" y1="506.20" x2="298.50" y2="506.20" stroke="#000" stroke-width="1.8" stroke-dasharray="5,4" stroke-linecap="butt"/>
<line x1="285.00" y1="523.90" x2="298.50" y2="523.90" stroke="#000" stroke-width="1.8" stroke-linecap="butt"/>
<text x="303.90" y="473.60" font-size="11.8" textLength="71.29" lengthAdjust="spacingAndGlyphs">vehicle + PBS</text>
<text x="303.90" y="490.40" font-size="11.8" textLength="74.91" lengthAdjust="spacingAndGlyphs">vehicle + AraC</text>
<text x="303.90" y="509.10" font-size="11.8" textLength="60.39" lengthAdjust="spacingAndGlyphs">TAM + PBS</text>
<text x="303.90" y="526.80" font-size="11.8" textLength="64.31" lengthAdjust="spacingAndGlyphs">TAM + AraC</text>
<path d="M388.8,467.8 H391.1 V488.1 H388.8" stroke="#000" stroke-width="1.5" fill="none" stroke-linejoin="miter"/>
<path d="M399.3,468.5 H401.6 V506 H399.3" stroke="#000" stroke-width="1.5" fill="none" stroke-linejoin="miter"/>
<path d="M388.1,504.9 H390.1 V524.9 H388.1" stroke="#000" stroke-width="1.5" fill="none" stroke-linejoin="miter"/>
<path d="M409.7,489.8 H412.1 V523.8 H409.7" stroke="#000" stroke-width="1.5" fill="none" stroke-linejoin="miter"/>
<polygon points="394.40,475.40 395.99,474.74 396.13,473.02 397.25,474.33 398.92,473.93 398.02,475.40 398.92,476.87 397.25,476.47 396.13,477.78 395.99,476.06" fill="#000"/>
<polygon points="394.40,481.20 395.99,480.54 396.13,478.82 397.25,480.13 398.92,479.73 398.02,481.20 398.92,482.67 397.25,482.27 396.13,483.58 395.99,481.86" fill="#000"/>
<polygon points="404.90,477.20 406.49,476.54 406.63,474.82 407.75,476.13 409.42,475.73 408.52,477.20 409.42,478.67 407.75,478.27 406.63,479.58 406.49,477.86" fill="#000"/>
<polygon points="404.90,483.00 406.49,482.34 406.63,480.62 407.75,481.93 409.42,481.53 408.52,483.00 409.42,484.47 407.75,484.07 406.63,485.38 406.49,483.66" fill="#000"/>
<polygon points="393.70,511.80 395.29,511.14 395.43,509.42 396.55,510.73 398.22,510.33 397.32,511.80 398.22,513.27 396.55,512.87 395.43,514.18 395.29,512.46" fill="#000"/>
<polygon points="393.70,517.60 395.29,516.94 395.43,515.22 396.55,516.53 398.22,516.13 397.32,517.60 398.22,519.07 396.55,518.67 395.43,519.98 395.29,518.26" fill="#000"/>
<polygon points="414.20,503.40 415.79,502.74 415.93,501.02 417.05,502.33 418.72,501.93 417.82,503.40 418.72,504.87 417.05,504.47 415.93,505.78 415.79,504.06" fill="#000"/>
<polygon points="414.20,509.20 415.79,508.54 415.93,506.82 417.05,508.13 418.72,507.73 417.82,509.20 418.72,510.67 417.05,510.27 415.93,511.58 415.79,509.86" fill="#000"/>
<path d="M0,0 H520 V593 H0 Z M1.25,1.25 V591.4 H518.7 V1.25 Z" fill="#000" fill-rule="evenodd"/>
</svg>
</body></html>
